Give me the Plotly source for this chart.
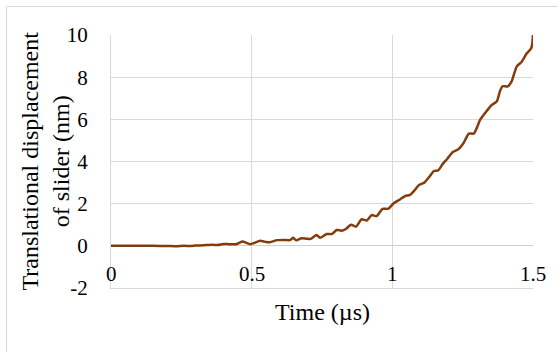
import plotly.graph_objects as go

# Slider displacement vs time
time_us = [0.00, 0.05, 0.10, 0.15, 0.20, 0.23, 0.26, 0.28, 0.30, 0.33, 0.36, 0.38,
           0.40, 0.42, 0.445, 0.468, 0.48, 0.494, 0.51, 0.53, 0.545, 0.565, 0.59,
           0.615, 0.636, 0.648, 0.658, 0.678, 0.695, 0.71, 0.731, 0.743, 0.767,
           0.785, 0.802, 0.82, 0.835, 0.853, 0.871, 0.891, 0.909, 0.927, 0.944,
           0.965, 0.986, 1.004, 1.027, 1.045, 1.063, 1.078, 1.095, 1.113, 1.13,
           1.148, 1.163, 1.18, 1.195, 1.215, 1.235, 1.252, 1.272, 1.29, 1.312,
           1.33, 1.353, 1.371, 1.383, 1.392, 1.41, 1.424, 1.442, 1.46, 1.478,
           1.493, 1.497, 1.5]
disp_nm = [0.00, 0.00, 0.00, 0.00, -0.01, -0.02, 0.00, -0.01, 0.01, 0.03, 0.05, 0.04,
           0.09, 0.08, 0.08, 0.20, 0.15, 0.08, 0.14, 0.24, 0.20, 0.17, 0.27,
           0.28, 0.27, 0.38, 0.26, 0.36, 0.34, 0.33, 0.51, 0.38, 0.56,
           0.56, 0.75, 0.72, 0.80, 1.00, 0.91, 1.26, 1.20, 1.46, 1.41,
           1.75, 1.76, 2.01, 2.20, 2.36, 2.42, 2.62, 2.89, 2.99, 3.25,
           3.55, 3.58, 3.90, 4.12, 4.45, 4.58, 4.85, 5.32, 5.33, 5.97,
           6.30, 6.68, 6.84, 7.35, 7.57, 7.56, 7.80, 8.50, 8.73, 9.13,
           9.35, 9.55, 10.0]

x_ticks = [0, 0.5, 1, 1.5]
x_tick_text = ["0", "0.5", "1", "1.5"]
y_ticks = [-2, 0, 2, 4, 6, 8, 10]
y_tick_text = ["-2", "0", "2", "4", "6", "8", "10"]

x_title = "Time (µs)"
y_title = "Translational displacement<br>of slider (nm)"

FONT = "Liberation Serif, Times New Roman, serif"
GRID = "#d9d9d9"
Y_MIN, Y_MAX = -2, 10

fig = go.Figure()
fig.add_trace(go.Scatter(
    x=time_us, y=disp_nm, mode="lines",
    line=dict(color="#843c0c", width=2.5, shape="spline", smoothing=0.6),
    hoverinfo="skip", showlegend=False,
))

# x tick labels sit just above the bottom edge of the plot area
x_label_annotations = [
    dict(text=txt, x=val, y=Y_MIN, xref="x", yref="y",
         xanchor="center", yanchor="bottom", showarrow=False,
         font=dict(family=FONT, size=21))
    for val, txt in zip(x_ticks, x_tick_text)
]

fig.update_layout(
    width=558, height=352,
    margin=dict(l=111, r=25, t=35, b=64),
    paper_bgcolor="white", plot_bgcolor="white",
    font=dict(family=FONT, size=21, color="black"),
    xaxis=dict(
        range=[0, 1.5], tickvals=x_ticks, showticklabels=False,
        showgrid=True, gridcolor=GRID, gridwidth=1,
        zeroline=False, showline=True, linecolor=GRID, linewidth=1,
        ticks="", fixedrange=True,
    ),
    yaxis=dict(
        range=[Y_MIN, Y_MAX], tickvals=y_ticks, ticktext=y_tick_text,
        showgrid=True, gridcolor=GRID, gridwidth=1,
        zeroline=True, zerolinecolor="#cfcfcf", zerolinewidth=1,
        showline=True, linecolor=GRID, linewidth=1,
        ticks="", ticklabelstandoff=18, fixedrange=True,
    ),
    annotations=x_label_annotations + [
        dict(text=x_title, xref="paper", yref="paper", x=0.5, y=(288 - 312) / 253,
             xanchor="center", yanchor="middle", showarrow=False,
             font=dict(family=FONT, size=24)),
        dict(text=y_title, xref="paper", yref="paper", x=(45 - 111) / 422, y=0.5,
             xanchor="center", yanchor="middle", showarrow=False, textangle=-90,
             font=dict(family=FONT, size=24)),
    ],
    shapes=[
        dict(type="rect", xref="paper", yref="paper",
             x0=(6.5 - 111) / 422, x1=(620 - 111) / 422,
             y0=(288 - 420) / 253, y1=(288 - 6.5) / 253,
             line=dict(color=GRID, width=1), fillcolor="rgba(0,0,0,0)", layer="below"),
    ],
)

fig.write_html("out.html")
